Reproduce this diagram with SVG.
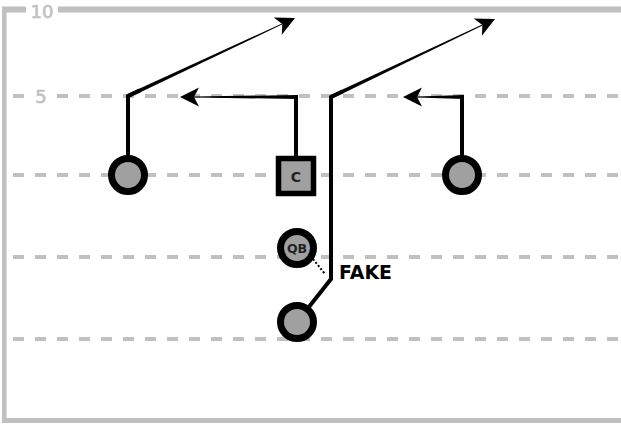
<svg xmlns="http://www.w3.org/2000/svg" xmlns:xlink="http://www.w3.org/1999/xlink" width="621" height="425" viewBox="0 0 621 425">
<style>
.field{stroke:#c0c0c0;fill:none}
.yard{stroke:#c0c0c0;stroke-width:4;stroke-dasharray:11 11;fill:none}
.lbl{font-family:"DejaVu Sans",sans-serif;font-size:18px;fill:#c0c0c0}
.route{stroke:#000;stroke-width:4;fill:none;stroke-linejoin:miter}
.taper{fill:#000}
.player{fill:#a0a0a0;stroke:#000;stroke-width:7}
.center{fill:#a0a0a0;stroke:#000;stroke-width:5.5}
.ptxt{font-family:"DejaVu Sans",sans-serif;font-weight:bold;fill:#222;text-anchor:middle}
.fake{font-family:"DejaVu Sans",sans-serif;font-weight:bold;font-size:20px;fill:#000}
</style>
<defs>
<path id="ah" d="M0,0 L-19,-9.5 L-14,0 L-19,9.5 Z" fill="#000"/>
</defs>
<rect width="621" height="425" fill="#fff"/>
<g id="field">
<path class="field" stroke-width="6" d="M2,9.5 H26 M58,9.5 H621"/>
<path class="field" stroke-width="4.5" d="M4.3,7 V423"/>
<path class="field" stroke-width="5" d="M2,420.5 H621"/>
<path class="yard" d="M13,96 H621"/>
<path class="yard" d="M13,175 H621"/>
<path class="yard" d="M13,257 H621"/>
<path class="yard" d="M13,339 H621"/>
<rect x="30" y="86" width="22" height="20" fill="#fff"/>
<text class="lbl" x="42" y="17.5" text-anchor="middle" stroke="#c0c0c0" stroke-width="0.6">10</text>
<text class="lbl" x="41" y="102.5" text-anchor="middle" stroke="#c0c0c0" stroke-width="0.6">5</text>
</g>
<g id="connectors">
<path class="route" d="M128,160 V96 L140,90.4"/>
<polygon class="taper" points="128.85,97.81 282.5,24.35 282.1,23.45 127.15,94.19"/>
<use xlink:href="#ah" href="#ah" transform="translate(295,18) rotate(-25.04)"/>
<path class="route" d="M296,160 V95"/>
<polygon class="taper" points="298,95 194,96.5 194,97.5 298,99"/>
<use xlink:href="#ah" href="#ah" transform="translate(180,97) rotate(180)"/>
<path class="route" d="M462,160 V95"/>
<polygon class="taper" points="464,95 417,96.5 417,97.5 464,99"/>
<use xlink:href="#ah" href="#ah" transform="translate(403,97) rotate(180)"/>
<path class="route" d="M297,322 L331,279 V97 L343,91.3"/>
<polygon class="taper" points="331.86,98.81 482.6,25.45 482.2,24.55 330.14,95.19"/>
<use xlink:href="#ah" href="#ah" transform="translate(495,19) rotate(-25.43)"/>
<path d="M313,259 L325,274" stroke="#000" stroke-width="2" stroke-dasharray="2 2" fill="none"/>
<text class="fake" x="339" y="279" textLength="53" lengthAdjust="spacingAndGlyphs">FAKE</text>
</g>
<g id="wr-left">
<circle class="player" cx="128" cy="175" r="16.5"/>
</g>
<g id="wr-right">
<circle class="player" cx="462" cy="175" r="16.5"/>
</g>
<g id="center">
<rect class="center" x="278.5" y="158.5" width="35" height="35"/>
<text class="ptxt" x="296" y="182" font-size="14">C</text>
</g>
<g id="qb">
<circle class="player" cx="297" cy="248" r="16.5"/>
<text class="ptxt" x="297" y="252.5" font-size="12.5">QB</text>
</g>
<g id="rb">
<circle class="player" cx="297" cy="322" r="16.5"/>
</g>
</svg>
